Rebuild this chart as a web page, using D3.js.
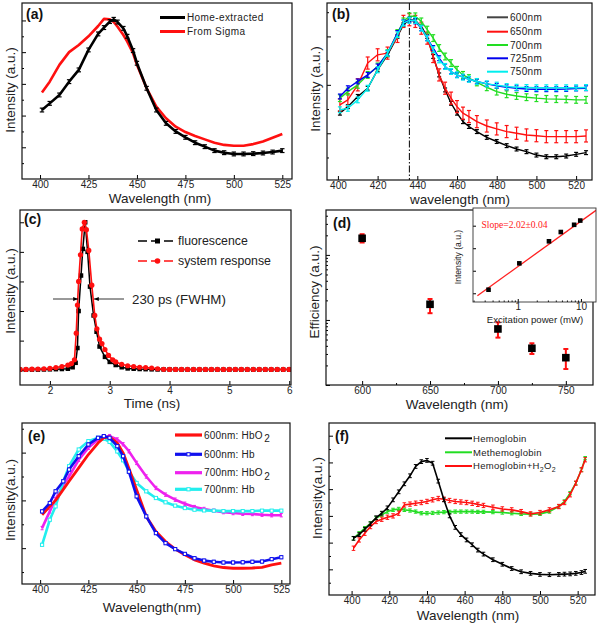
<!DOCTYPE html>
<html><head><meta charset="utf-8">
<script src="https://cdn.jsdelivr.net/npm/d3@7"></script>
<style>body{margin:0;background:#fff} svg{display:block}</style>
</head><body><svg id="c" width="600" height="625"></svg>
<script>
// ---------- DATA ----------
// (a)
const aWl = [401,405,410,415,420,425,430,433,436,438,440,443,445,448,450,455,460,465,470,475,480,485,490,495,500,505,510,515,520,525];
const aHome = [.435,.477,.53,.614,.688,.814,.915,.955,.993,1.007,.99,.95,.90,.81,.73,.572,.435,.351,.30,.263,.229,.204,.179,.166,.158,.158,.16,.164,.17,.179];
const aSigma = [.545,.614,.72,.80,.845,.90,.965,1.01,1.007,.99,.96,.908,.866,.793,.72,.572,.456,.383,.33,.296,.271,.25,.229,.215,.21,.21,.22,.236,.26,.284];
const aXTicks = [400,425,450,475,500,525];
const aLegend = ["Home-extracted","From Sigma"];

// (b)
const bWl = [401,405,410,415,420,425,430,433,436,439,442,445,448,451,454,457,460,463,466,470,475,480,485,490,495,500,505,510,515,520,525];
const b600 = [.483,.51,.552,.586,.662,.724,.80,.848,.869,.866,.841,.80,.717,.641,.579,.524,.483,.448,.428,.407,.383,.366,.349,.335,.324,.31,.303,.303,.306,.313,.32];
const b650 = [.517,.538,.60,.69,.724,.731,.80,.862,.869,.862,.834,.793,.717,.641,.586,.545,.51,.483,.469,.448,.43,.418,.407,.40,.393,.39,.386,.386,.386,.386,.389];
const b700 = [.545,.572,.60,.641,.676,.731,.814,.862,.883,.883,.862,.828,.793,.752,.717,.69,.662,.641,.628,.61,.59,.572,.561,.554,.549,.545,.542,.541,.54,.538,.538];
const b725 = [.552,.586,.614,.641,.676,.731,.814,.858,.869,.862,.834,.793,.752,.71,.676,.655,.641,.632,.623,.614,.604,.596,.59,.586,.583,.582,.582,.582,.583,.585,.586];
const b750 = [.497,.503,.538,.586,.662,.731,.807,.855,.866,.866,.834,.793,.745,.703,.676,.655,.641,.632,.623,.614,.604,.599,.593,.59,.589,.588,.588,.588,.588,.588,.589];
const bErr = [.008,.025,.014,.01,.012];
const bXTicks = [400,420,440,460,480,500,520];
const bLegend = ["600nm","650nm","700nm","725nm","750nm"];
const bPeakLine = 436;

// (c)
const cTimeFl = [1.5,1.6,1.7,1.8,1.9,2.0,2.1,2.2,2.3,2.38,2.43,2.46,2.48,2.52,2.55,2.59,2.63,2.67,2.73,2.78,2.83,2.92,3.0,3.1,3.2,3.3,3.4,3.5,3.6,3.7,3.8,3.9,4.0,4.1,4.2,4.3,4.4,4.5,4.6,4.7,4.8,4.9,5.0,5.1,5.2,5.3,5.4,5.5,5.6,5.7,5.8,5.9,6.0];
const cFl = [.003,.003,.004,.004,.005,.006,.007,.008,.01,.02,.05,.15,.40,.64,.82,1.0,.80,.565,.37,.26,.16,.09,.056,.035,.02,.012,.01,.008,.007,.006,.005,.005,.005,.005,.004,.004,.004,.004,.004,.004,.004,.004,.004,.004,.004,.004,.004,.004,.004,.004,.004,.004,.004];
const cTimeSr = [1.5,1.6,1.7,1.8,1.9,2.0,2.1,2.2,2.3,2.36,2.41,2.44,2.46,2.48,2.51,2.54,2.575,2.61,2.65,2.70,2.75,2.785,2.83,2.87,2.92,2.98,3.05,3.1,3.2,3.3,3.4,3.5,3.6,3.7,3.8,3.9,4.0,4.1,4.2,4.3,4.4,4.5,4.6,4.7,4.8,4.9,5.0,5.1,5.2,5.3,5.4,5.5,5.6,5.7,5.8,5.9,6.0];
const cSr = [.005,.005,.007,.008,.01,.012,.018,.025,.035,.045,.07,.25,.44,.60,.78,.955,1.0,.95,.81,.575,.37,.28,.21,.18,.14,.10,.07,.056,.04,.03,.025,.02,.018,.015,.01,.006,.005,.005,.005,.005,.005,.005,.005,.005,.005,.005,.005,.005,.005,.005,.005,.005,.005,.005,.005,.005,.005];
const cXTicks = [2,3,4,5,6];
const cYTicks = [0,.2,.4,.6,.8,1.0];
const cLegend = ["fluorescence","system response"];
const cNote = "230 ps (FWHM)";

// (d)
const dWl = [600,650,700,725,750];
const dEff = [1.80,0.174,0.0727,0.0367,0.0263];
const dErrHi = [2.08,0.21,0.092,0.0438,0.0358];
const dErrLo = [1.55,0.127,0.0535,0.030,0.0176];
const dXTicks = [600,650,700,750];
const dXMinor = [625,675,725];
const insetPower = [0.345,1.06,3.12,4.8,7.8,9.75];
const insetInt = [1.44,21.3,203,524,1096,1690];
const insetFitSlope = 2.02;
const insetFitLogIntercept = 1.18;
const insetFitRange = [0.23,18.5];
const insetXTicks = [1,10];
const insetText = "Slope=2.02±0.04";

// (e)
const eWl = [401,405,408,412,415,420,425,430,433,436,440,443,446,450,455,460,465,470,475,480,485,490,495,500,505,510,515,520,525];
const e600HbO2 = [.54,.575,.60,.646,.68,.736,.792,.84,.862,.866,.84,.799,.735,.645,.533,.47,.428,.396,.372,.351,.337,.326,.319,.316,.316,.317,.32,.33,.337];
const e600Hb = [.554,.589,.638,.68,.729,.785,.834,.862,.869,.862,.827,.785,.72,.617,.533,.463,.421,.396,.376,.358,.348,.343,.34,.34,.341,.343,.344,.354,.362];
const e700HbO2 = [.484,.554,.605,.665,.70,.77,.82,.855,.865,.869,.855,.835,.806,.757,.70,.652,.624,.603,.586,.572,.564,.557,.551,.547,.544,.543,.54,.538,.538];
const e700Hb = [.414,.519,.575,.68,.743,.813,.848,.862,.858,.845,.805,.768,.722,.673,.638,.61,.592,.578,.568,.561,.558,.557,.555,.555,.555,.555,.557,.557,.557];
const eXTicks = [400,425,450,475,500,525];

// (f)
const fWl = [401,404,407,410,413,416,419,422,425,428,431,434,437,440,443,446,449,452,455,458,461,464,467,470,475,480,485,490,495,500,505,510,513,516,519,522,524];
const fHb = [.316,.33,.35,.37,.393,.41,.43,.46,.49,.52,.55,.585,.603,.6075,.597,.53,.46,.40,.357,.33,.31,.292,.272,.257,.236,.219,.203,.191,.185,.181,.18,.181,.182,.183,.185,.188,.1925];
const fMet = [.316,.335,.354,.3725,.391,.404,.416,.4225,.426,.4225,.42,.416,.41,.41,.411,.4125,.414,.415,.416,.416,.416,.416,.415,.415,.414,.4125,.41,.4075,.406,.4075,.416,.435,.454,.485,.5225,.5725,.616];
const fHbH2O2 = [.279,.31,.335,.36,.379,.3875,.395,.40,.41,.441,.444,.4475,.45,.454,.46,.465,.4625,.4575,.454,.452,.45,.447,.443,.439,.4325,.426,.4225,.416,.4075,.4125,.4225,.435,.45,.479,.5225,.5725,.61];
const fXTicks = [400,420,440,460,480,500,520];

// ---------- DRAWING ----------
const svg = d3.select('#c');
const F = "Arial, 'Liberation Sans', Helvetica, sans-serif";
const TXT = '#222';
const TITLE = 13.5;
let clipN = 0;

function panel(b, xd, yd, o) {
  const x = (o.xLog ? d3.scaleLog() : d3.scaleLinear()).domain(xd).range([b[0], b[1]]);
  const y = (o.yLog ? d3.scaleLog() : d3.scaleLinear()).domain(yd).range([b[3], b[2]]);
  const id = 'clip' + (clipN++);
  svg.append('clipPath').attr('id', id).append('rect')
    .attr('x', b[0]).attr('y', b[2]).attr('width', b[1]-b[0]).attr('height', b[3]-b[2]);
  const ax = svg.append('g').attr('transform', `translate(0,${b[3]})`)
    .attr('font-family', F).attr('font-size', o.tfs || 9)
    .call(d3.axisBottom(x).tickValues(o.xt).tickSize(-(o.tl || 4)).tickPadding(o.tp || 2)
      .tickFormat(o.xf || d3.format('d')));
  ax.select('.domain').remove();
  ax.selectAll('text').attr('fill', TXT);
  if (o.xm) {
    const axm = svg.append('g').attr('transform', `translate(0,${b[3]})`)
      .call(d3.axisBottom(x).tickValues(o.xm).tickSize(-2).tickFormat(''));
    axm.select('.domain').remove();
  }
  if (o.yt) {
    const ay = svg.append('g').attr('transform', `translate(${b[0]},0)`)
      .call(d3.axisLeft(y).tickValues(o.yt).tickSize(-(o.tl || 4)).tickFormat(''));
    ay.select('.domain').remove();
  }
  if (o.ym) {
    const aym = svg.append('g').attr('transform', `translate(${b[0]},0)`)
      .call(d3.axisLeft(y).tickValues(o.ym).tickSize(-2).tickFormat(''));
    aym.select('.domain').remove();
  }
  const g = svg.append('g').attr('clip-path', `url(#${id})`);
  svg.append('rect').attr('x', b[0]).attr('y', b[2]).attr('width', b[1]-b[0]).attr('height', b[3]-b[2])
    .attr('fill', 'none').attr('stroke', '#111').attr('stroke-width', o.fw || 1.2);
  return {x, y, g, b};
}

function series(p, xs, ys, s) {
  const pts = xs.map((v, i) => [v, ys[i]]);
  const line = d3.line().x(d => p.x(d[0])).y(d => p.y(d[1]));
  p.g.append('path').datum(pts).attr('d', line).attr('fill', 'none')
    .attr('stroke', s.color).attr('stroke-width', s.w || 1.5).attr('stroke-linejoin', 'round');
  if (s.err) {
    const cap = s.cap || 2;
    const eg = p.g.append('g').attr('stroke', s.color).attr('stroke-width', s.ew || 1);
    pts.forEach(d => {
      const px = p.x(d[0]), y1 = p.y(d[1] + s.err), y2 = p.y(d[1] - s.err);
      eg.append('line').attr('x1', px).attr('x2', px).attr('y1', y1).attr('y2', y2);
      eg.append('line').attr('x1', px - cap).attr('x2', px + cap).attr('y1', y1).attr('y2', y1);
      eg.append('line').attr('x1', px - cap).attr('x2', px + cap).attr('y1', y2).attr('y2', y2);
    });
  }
  if (s.marker === 'square' || s.marker === 'osquare') {
    const m = s.ms || 4;
    p.g.append('g').selectAll('rect').data(pts).join('rect')
      .attr('x', d => p.x(d[0]) - m/2).attr('y', d => p.y(d[1]) - m/2)
      .attr('width', m).attr('height', m)
      .attr('fill', s.marker === 'osquare' ? '#fff' : s.color)
      .attr('stroke', s.color).attr('stroke-width', s.marker === 'osquare' ? 1 : 0);
  } else if (s.marker === 'circle') {
    p.g.append('g').selectAll('circle').data(pts).join('circle')
      .attr('cx', d => p.x(d[0])).attr('cy', d => p.y(d[1])).attr('r', s.ms || 2.5)
      .attr('fill', s.color);
  }
}

function text(x, y, str, o = {}) {
  const t = svg.append('text').attr('x', x).attr('y', y).text(str)
    .attr('font-family', o.ff || F).attr('font-size', o.fs || 10).attr('fill', o.fill || TXT)
    .attr('font-weight', o.fwt || 'normal').attr('text-anchor', o.anchor || 'start');
  if (o.ls) t.attr('letter-spacing', o.ls);
  if (o.rot) t.attr('transform', `rotate(-90,${x},${y})`);
  return t;
}

function legLine(x1, x2, y, color, w, dash) {
  const l = svg.append('line').attr('x1', x1).attr('x2', x2).attr('y1', y).attr('y2', y)
    .attr('stroke', color).attr('stroke-width', w);
  if (dash) l.attr('stroke-dasharray', dash);
}

// ===== Panel (a) =====
{
  const p = panel([22, 292, 3, 179], [390.7, 530], [0, 1.11],
    {xt: aXTicks, yt: [.2,.4,.6,.8,1.0], ym: [.1,.3,.5,.7,.9]});
  series(p, aWl, aSigma, {color: '#ff1010', w: 2.6});
  series(p, aWl, aHome, {color: '#000', w: 2.6, err: .012, cap: 2.2, ew: 1.2});
  legLine(160, 185, 17.5, '#000', 3);
  legLine(160, 185, 31.5, '#ff1010', 3);
  text(187, 21, aLegend[0], {fs: 10, ls: 0.4});
  text(187, 35, aLegend[1], {fs: 10, ls: 0.4});
  text(26, 19, '(a)', {fs: 14, fwt: 'bold', fill: '#111'});
  text(160, 203, 'Wavelength (nm)', {fs: TITLE, anchor: 'middle'});
  text(15, 90, 'Intensity (a.u.)', {fs: TITLE, anchor: 'middle', rot: true});
}

// ===== Panel (b) =====
{
  const p = panel([327, 592, 3, 180], [394.5, 528], [0.207, 0.938],
    {xt: bXTicks, yt: [.4,.6,.8], ym: [.3,.5,.7,.9]});
  const cols = ['#000', '#ff1010', '#22dd22', '#0000ee', '#00eeee'];
  const sets = [b600, b650, b700, b725, b750];
  p.g.append('line').attr('x1', p.x(bPeakLine)).attr('x2', p.x(bPeakLine)).attr('y1', 3).attr('y2', 180)
    .attr('stroke', '#000').attr('stroke-width', 1).attr('stroke-dasharray', '7,2,1.5,2');
  [0, 1, 2, 3, 4].forEach(i => series(p, bWl, sets[i], {color: cols[i], w: 1.4, err: bErr[i], cap: 2, ew: 1.2}));
  const ly = [17.3, 31.7, 45, 58.3, 71.7];
  const lc = ['#444', '#ff1010', '#22dd22', '#0000ee', '#00eeee'];
  bLegend.forEach((s, i) => {
    legLine(487, 508, ly[i], lc[i], 2);
    text(510, ly[i] + 3.6, s, {fs: 10, ls: 0.3});
  });
  text(332, 19, '(b)', {fs: 14, fwt: 'bold', fill: '#111'});
  text(460, 203.5, 'wavelength (nm)', {fs: TITLE, anchor: 'middle'});
  text(320, 89, 'Intensity (a.u.)', {fs: TITLE, anchor: 'middle', rot: true});
}

// ===== Panel (c) =====
{
  const p = panel([20, 291, 210, 385], [1.5, 6.03], [-0.1, 1.083],
    {xt: cXTicks, yt: cYTicks});
  series(p, cTimeFl, cFl, {color: '#000', w: 1.5, marker: 'square', ms: 4.5});
  series(p, cTimeSr, cSr, {color: '#ff1010', w: 1.6, marker: 'circle', ms: 2.6});
  legLine(138, 177, 241, '#000', 1.6, '9,4');
  svg.append('rect').attr('x', 155).attr('y', 238.5).attr('width', 5).attr('height', 5).attr('fill', '#000');
  legLine(138, 177, 261, '#ff1010', 1.6, '9,4');
  svg.append('circle').attr('cx', 157.5).attr('cy', 261).attr('r', 2.8).attr('fill', '#ff1010');
  text(178, 245, cLegend[0], {fs: 12.3});
  text(178, 265, cLegend[1], {fs: 12.3});
  const defs = svg.append('defs');
  defs.append('marker').attr('id', 'arr').attr('viewBox', '0 0 10 10').attr('refX', 10).attr('refY', 5)
    .attr('markerWidth', 6).attr('markerHeight', 6).attr('orient', 'auto')
    .append('path').attr('d', 'M0,1 L10,5 L0,9 z').attr('fill', '#000');
  svg.append('line').attr('x1', 53).attr('x2', 78).attr('y1', 299).attr('y2', 299)
    .attr('stroke', '#000').attr('stroke-width', 0.8).attr('marker-end', 'url(#arr)');
  svg.append('line').attr('x1', 124).attr('x2', 94).attr('y1', 299).attr('y2', 299)
    .attr('stroke', '#000').attr('stroke-width', 0.8).attr('marker-end', 'url(#arr)');
  text(132, 304, cNote, {fs: 13.3});
  text(24, 224, '(c)', {fs: 14, fwt: 'bold', fill: '#111'});
  text(152, 408, 'Time (ns)', {fs: TITLE, anchor: 'middle'});
  text(15, 291, 'Intensity (a.u.)', {fs: TITLE, anchor: 'middle', rot: true});
}

// ===== Panel (d) =====
{
  const yMajor = [0.01, 0.1, 1];
  const yMinor = [];
  [0.01, 0.1, 1].forEach(dd => { for (let k = 2; k <= 9; k++) if (k*dd < 4.9) yMinor.push(k*dd); });
  const p = panel([326, 593, 210, 385], [573.4, 770], [0.01, 4.9],
    {yLog: true, xt: dXTicks, xm: dXMinor, yt: yMajor, ym: yMinor});
  const eg = p.g.append('g').attr('stroke', '#ff1010').attr('stroke-width', 2);
  dWl.forEach((w, i) => {
    const px = p.x(w), y1 = p.y(dErrHi[i]), y2 = p.y(dErrLo[i]);
    eg.append('line').attr('x1', px).attr('x2', px).attr('y1', y1).attr('y2', y2);
    eg.append('line').attr('x1', px - 2.5).attr('x2', px + 2.5).attr('y1', y1).attr('y2', y1);
    eg.append('line').attr('x1', px - 2.5).attr('x2', px + 2.5).attr('y1', y2).attr('y2', y2);
  });
  p.g.append('g').selectAll('rect').data(dWl).join('rect')
    .attr('x', (d) => p.x(d) - 3.8).attr('y', (d, i) => p.y(dEff[i]) - 3.8)
    .attr('width', 7.6).attr('height', 7.6).attr('fill', '#000');
  text(333, 228, '(d)', {fs: 14, fwt: 'bold', fill: '#111'});
  text(457, 408.5, 'Wavelength (nm)', {fs: TITLE, anchor: 'middle'});
  text(319, 292, 'Efficiency (a.u.)', {fs: TITLE, anchor: 'middle', rot: true});

  // inset
  const ib = [473, 596, 208, 302];
  svg.append('rect').attr('x', ib[0]).attr('y', ib[2]).attr('width', ib[1]-ib[0]).attr('height', ib[3]-ib[2]).attr('fill', '#fff');
  const ix = d3.scaleLog().domain([0.196, 17.3]).range([ib[0], ib[1]]);
  const iy = d3.scaleLog().domain([0.41, 6100]).range([ib[3], ib[2]]);
  const ixMinor = [];
  [0.1, 1, 10].forEach(dd => { for (let k = 2; k <= 9; k++) { const v = k*dd; if (v > 0.196 && v < 17.3) ixMinor.push(v); } });
  const iax = svg.append('g').attr('transform', `translate(0,${ib[3]})`).attr('font-family', F).attr('font-size', 7.5)
    .call(d3.axisBottom(ix).tickValues(insetXTicks).tickSize(-3).tickPadding(1).tickFormat(d3.format('d')));
  iax.select('.domain').remove(); iax.selectAll('text').attr('fill', TXT);
  const iaxm = svg.append('g').attr('transform', `translate(0,${ib[3]})`)
    .call(d3.axisBottom(ix).tickValues(ixMinor).tickSize(-1.5).tickFormat(''));
  iaxm.select('.domain').remove();
  const iay = svg.append('g').attr('transform', `translate(${ib[0]},0)`)
    .call(d3.axisLeft(iy).tickValues([1, 10, 100, 1000]).tickSize(-3).tickFormat(''));
  iay.select('.domain').remove();
  svg.append('clipPath').attr('id', 'iclip').append('rect').attr('x', ib[0]).attr('y', ib[2]).attr('width', ib[1]-ib[0]).attr('height', ib[3]-ib[2]);
  const ig = svg.append('g').attr('clip-path', 'url(#iclip)');
  const fit = insetFitRange.map(v => [v, Math.pow(10, insetFitLogIntercept + insetFitSlope * Math.log10(v))]);
  ig.append('path').datum(fit).attr('d', d3.line().x(d => ix(d[0])).y(d => iy(d[1])))
    .attr('stroke', '#ff2020').attr('stroke-width', 1.3).attr('fill', 'none');
  ig.selectAll('rect.pt').data(insetPower).join('rect')
    .attr('x', d => ix(d) - 2.3).attr('y', (d, i) => iy(insetInt[i]) - 2.3).attr('width', 4.6).attr('height', 4.6).attr('fill', '#000');
  svg.append('rect').attr('x', ib[0]).attr('y', ib[2]).attr('width', ib[1]-ib[0]).attr('height', ib[3]-ib[2])
    .attr('fill', 'none').attr('stroke', '#333').attr('stroke-width', 0.9);
  text(481.5, 228, insetText, {ff: "'Liberation Serif', 'Times New Roman', serif", fs: 9.6, fill: '#ff2020'});
  text(535, 322.5, 'Excitation power (mW)', {fs: 9.6, anchor: 'middle'});
  text(461, 257, 'Intensity (a.u.)', {fs: 8.6, anchor: 'middle', rot: true});
}

// ===== Panel (e) =====
{
  const p = panel([22, 290, 423, 584], [390.6, 529.5], [0.25, 0.924],
    {xt: eXTicks, yt: [.4,.6,.8], ym: [.3,.5,.7,.9]});
  series(p, eWl, e700HbO2, {color: '#ee22ee', w: 2.6, err: .007, cap: 1.5, ew: 1});
  series(p, eWl, e700Hb, {color: '#22eeee', w: 2.6, marker: 'osquare', ms: 3.2});
  series(p, eWl, e600HbO2, {color: '#ff1010', w: 2.8});
  series(p, eWl, e600Hb, {color: '#1010ee', w: 2.6, err: .006, cap: 1.5, marker: 'osquare', ms: 3.2});
  const ly = [435, 454.3, 472.7, 489.3];
  const lc = ['#ff1010', '#1010ee', '#ee22ee', '#22eeee'];
  const labs = [['600nm: HbO', '2'], ['600nm: Hb', ''], ['700nm: HbO', '2'], ['700nm: Hb', '']];
  labs.forEach((l, i) => {
    legLine(175, 202, ly[i], lc[i], 3.2);
    if (i % 2 === 1) svg.append('rect').attr('x', 186.9).attr('y', ly[i] - 1.6).attr('width', 3.2).attr('height', 3.2)
      .attr('fill', '#fff').attr('stroke', lc[i]).attr('stroke-width', 1);
    const t = text(204, ly[i] + 3.6, l[0], {fs: 10, ls: 0.2});
    if (l[1]) t.append('tspan').attr('dy', 3.5).attr('dx', 1.5).attr('font-size', 10).text(l[1]);
  });
  text(28, 441, '(e)', {fs: 14, fwt: 'bold', fill: '#111'});
  text(152, 612, 'Wavelength(nm)', {fs: TITLE, anchor: 'middle'});
  text(15, 500, 'Intensity(a.u.)', {fs: TITLE, anchor: 'middle', rot: true});
}

// ===== Panel (f) =====
{
  const p = panel([329, 595, 423, 595], [388, 529.2], [0.104, 0.7475],
    {xt: fXTicks, yt: [.2,.3,.4,.5,.6,.7], ym: [.15,.25,.35,.45,.55,.65]});
  series(p, fWl, fMet, {color: '#22dd22', w: 1.6, err: .006, cap: 1.8});
  series(p, fWl, fHbH2O2, {color: '#ff1010', w: 1.6, err: .008, cap: 1.8});
  series(p, fWl, fHb, {color: '#000', w: 1.6, err: .007, cap: 1.8});
  const ly = [438.3, 452.3, 466];
  const lc = ['#000', '#22dd22', '#ff1010'];
  ly.forEach((yy, i) => legLine(445, 472, yy, lc[i], 2));
  text(473, ly[0] + 3.4, 'Hemoglobin', {fs: 9.5, ls: 0.3});
  text(473, ly[1] + 3.4, 'Methemoglobin', {fs: 9.5, ls: 0.3});
  const t = text(473, ly[2] + 3.4, 'Hemoglobin+H', {fs: 9.5, ls: 0.3});
  t.append('tspan').attr('dy', 3).attr('font-size', 7).text('2');
  t.append('tspan').attr('dy', -3).text('O');
  t.append('tspan').attr('dy', 3).attr('font-size', 7).text('2');
  text(335, 441, '(f)', {fs: 14, fwt: 'bold', fill: '#111'});
  text(468, 619.5, 'Wavelength (nm)', {fs: TITLE, anchor: 'middle'});
  text(322, 498, 'Intensity(a.u.)', {fs: TITLE, anchor: 'middle', rot: true});
}
</script></body></html>
